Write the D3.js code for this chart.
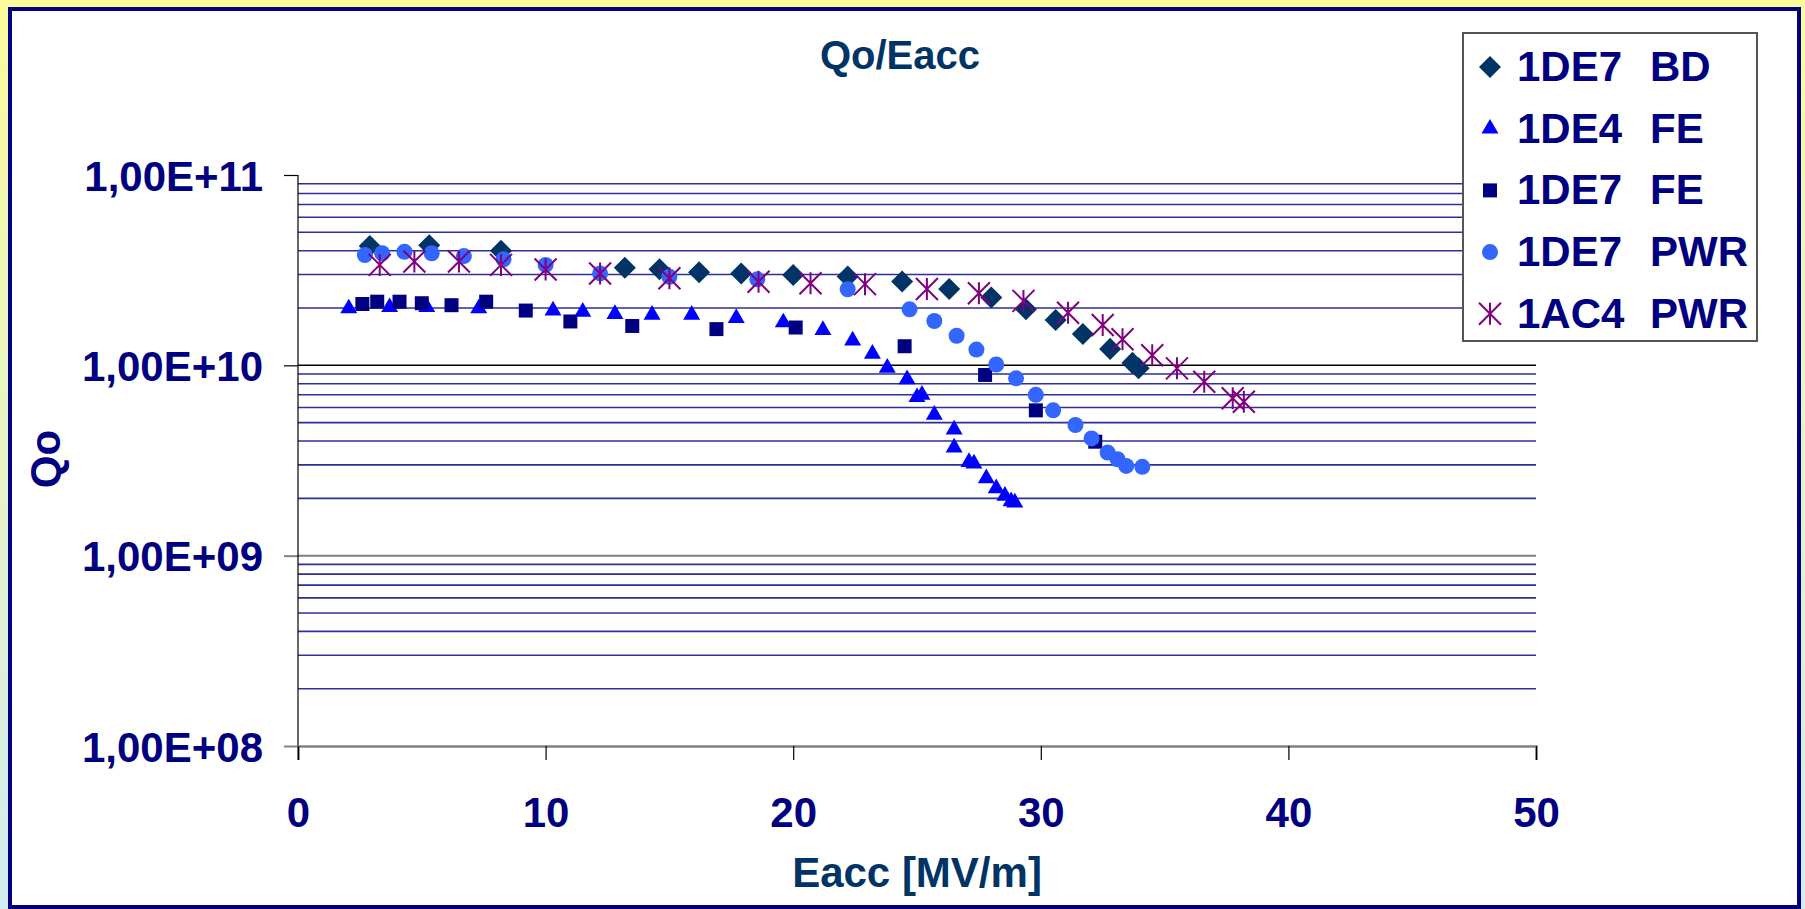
<!DOCTYPE html>
<html>
<head>
<meta charset="utf-8">
<script src="https://cdn.jsdelivr.net/npm/d3@7"></script>
<style>
  body { margin: 0; padding: 0; overflow: hidden; }
  text { font-family: "Liberation Sans", Arial, sans-serif; font-weight: bold; }
</style>
</head>
<body>
<svg id="chart" width="1805" height="909"></svg>
<script>
// series names shown in the legend
var seriesNames = [["1DE7", "BD"], ["1DE4", "FE"], ["1DE7", "FE"], ["1DE7", "PWR"], ["1AC4", "PWR"]];

// 1DE7 BD
var bdX = [2.9, 5.3, 8.2, 13.2, 14.6, 16.2, 17.9, 20.0, 22.2, 24.4, 26.3, 28.0, 29.4, 30.6, 31.7, 32.8, 33.7, 33.95];
var bdQ = [4.24e10, 4.28e10, 4.0e10, 3.26e10, 3.2e10, 3.08e10, 3.04e10, 2.98e10, 2.93e10, 2.76e10, 2.52e10, 2.27e10, 1.97e10, 1.73e10, 1.46e10, 1.22e10, 1.03e10, 9.65e9];

// 1DE4 FE
var fe4X = [2.05, 3.7, 5.2, 7.3, 10.3, 11.5, 12.8, 14.3, 15.9, 17.7, 19.6, 21.2, 22.4, 23.2, 23.8, 24.6, 25.0, 25.2, 25.7, 26.5, 26.5, 27.1, 27.3, 27.8, 28.2, 28.55, 28.8, 28.95];
var fe4Q = [1.99e10, 2.02e10, 2.02e10, 1.99e10, 1.94e10, 1.91e10, 1.86e10, 1.84e10, 1.84e10, 1.77e10, 1.68e10, 1.53e10, 1.35e10, 1.15e10, 9.7e9, 8.45e9, 6.8e9, 7.0e9, 5.5e9, 4.6e9, 3.7e9, 3.1e9, 3.05e9, 2.55e9, 2.26e9, 2.06e9, 1.93e9, 1.9e9];

// 1DE7 FE
var fe7X = [2.6, 3.2, 4.1, 5.0, 6.2, 7.6, 9.2, 11.0, 13.5, 16.9, 20.1, 24.5, 27.75, 29.8, 32.2];
var fe7Q = [2.10e10, 2.16e10, 2.16e10, 2.12e10, 2.07e10, 2.16e10, 1.94e10, 1.70e10, 1.61e10, 1.55e10, 1.58e10, 1.26e10, 8.9e9, 5.8e9, 3.97e9];

// 1DE7 PWR
var pwr7X = [2.7, 3.4, 4.3, 5.4, 6.7, 8.3, 10.0, 12.2, 15.0, 18.55, 22.2, 24.7, 25.7, 26.6, 27.4, 28.2, 29.0, 29.8, 30.5, 31.4, 32.05, 32.7, 33.1, 33.45, 34.1];
var pwr7Q = [3.80e10, 3.88e10, 3.95e10, 3.88e10, 3.75e10, 3.61e10, 3.37e10, 3.04e10, 2.92e10, 2.83e10, 2.51e10, 1.97e10, 1.71e10, 1.43e10, 1.21e10, 1.01e10, 8.55e9, 7.0e9, 5.8e9, 4.86e9, 4.13e9, 3.48e9, 3.21e9, 2.96e9, 2.93e9];

// 1AC4 PWR
var pwr4X = [3.3, 4.7, 6.5, 8.2, 10.0, 12.2, 15.0, 18.6, 20.7, 22.9, 25.4, 27.5, 29.3, 31.1, 32.5, 33.3, 34.5, 35.5, 36.6, 37.75, 38.2];
var pwr4Q = [3.37e10, 3.51e10, 3.51e10, 3.37e10, 3.19e10, 3.04e10, 2.87e10, 2.75e10, 2.70e10, 2.67e10, 2.52e10, 2.39e10, 2.18e10, 1.89e10, 1.63e10, 1.37e10, 1.13e10, 9.64e9, 8.2e9, 6.71e9, 6.44e9];

var xTicks = [0, 10, 20, 30, 40, 50];
var yTicks = [1e8, 1e9, 1e10, 1e11];

var svg = d3.select("#chart");

// background + white panel with navy border
var defs = svg.append("defs");
var grad = defs.append("linearGradient").attr("id", "bg").attr("x1", 0).attr("y1", 0).attr("x2", 0).attr("y2", 1);
grad.append("stop").attr("offset", "0%").attr("stop-color", "#fbfb9c");
grad.append("stop").attr("offset", "100%").attr("stop-color", "#d2ecf2");
svg.append("rect").attr("width", 1805).attr("height", 909).attr("fill", "url(#bg)");
svg.append("rect")
    .attr("x", 10).attr("y", 9).attr("width", 1789).attr("height", 898)
    .attr("fill", "#fff").attr("stroke", "#000080").attr("stroke-width", 4);

var xScale = d3.scaleLinear().domain([0, 50]).range([298, 1536]);
var yScale = d3.scaleLog().domain([1e8, 1e11]).range([746, 175]);

// minor gridlines 2..9 in each decade
var minor = [];
[1e8, 1e9, 1e10].forEach(function(d) {
    for (var k = 2; k <= 9; k++) minor.push(d * k);
});

var grid = svg.append("g");
grid.selectAll("line.minor")
    .data(minor)
    .enter()
    .append("line")
    .attr("class", "minor")
    .attr("x1", xScale(0)).attr("x2", xScale(50))
    .attr("y1", function(d) { return yScale(d); })
    .attr("y2", function(d) { return yScale(d); })
    .attr("stroke", "#2e2e9c")
    .attr("stroke-width", 1.6);

grid.append("line")
    .attr("x1", xScale(0)).attr("x2", xScale(50))
    .attr("y1", yScale(1e10)).attr("y2", yScale(1e10))
    .attr("stroke", "#000").attr("stroke-width", 1.5);
grid.append("line")
    .attr("x1", xScale(0)).attr("x2", xScale(50))
    .attr("y1", yScale(1e9)).attr("y2", yScale(1e9))
    .attr("stroke", "#808080").attr("stroke-width", 2);

// axes
var yAxis = svg.append("g")
    .attr("transform", "translate(" + xScale(0) + ",0)")
    .call(d3.axisLeft(yScale)
        .tickValues(yTicks)
        .tickSize(14)
        .tickPadding(21)
        .tickFormat(function(d) {
            return "1,00E+" + d3.format("02d")(Math.round(Math.log10(d)));
        }));
yAxis.select(".domain").remove();
yAxis.selectAll(".tick line")
    .attr("stroke", function(d) { return d < 5e9 ? "#808080" : "#000"; })
    .attr("stroke-width", function(d) { return d < 5e9 ? 2 : 1.2; });
yAxis.selectAll(".tick text")
    .attr("fill", "#000080")
    .attr("font-size", 42)
    .attr("dy", "0.36em");

svg.append("line")
    .attr("x1", xScale(0)).attr("x2", xScale(0))
    .attr("y1", yScale(1e11)).attr("y2", yScale(1e8) + 14)
    .attr("stroke", "#000").attr("stroke-width", 1.2);

var xAxis = svg.append("g")
    .attr("transform", "translate(0," + yScale(1e8) + ")")
    .call(d3.axisBottom(xScale).tickValues(xTicks).tickSize(14).tickPadding(37));
xAxis.select(".domain").attr("stroke", "#808080").attr("stroke-width", 2.5);
xAxis.selectAll(".tick line").attr("stroke", "#000").attr("stroke-width", 1.2);
xAxis.selectAll(".tick text")
    .attr("fill", "#000080")
    .attr("font-size", 42);

// titles
svg.append("text")
    .attr("x", 900).attr("y", 69)
    .attr("text-anchor", "middle")
    .attr("font-size", 40)
    .attr("fill", "#003366")
    .text("Qo/Eacc");
svg.append("text")
    .attr("x", 917).attr("y", 887)
    .attr("text-anchor", "middle")
    .attr("font-size", 42)
    .attr("fill", "#003366")
    .text("Eacc [MV/m]");
svg.append("text")
    .attr("transform", "translate(60,459) rotate(-90)")
    .attr("text-anchor", "middle")
    .attr("font-size", 42)
    .attr("fill", "#000080")
    .text("Qo");

// marker shapes
var starType = {
    draw: function(ctx, size) {
        var r = Math.sqrt(size) / 2;
        ctx.moveTo(-r, -r); ctx.lineTo(r, r);
        ctx.moveTo(-r, r); ctx.lineTo(r, -r);
        ctx.moveTo(0, -r); ctx.lineTo(0, r);
    }
};

var series = [
    { xs: bdX, qs: bdQ, sym: d3.symbol().type(d3.symbolSquare).size(243), rot: 45, fill: "#003366" },
    { xs: fe4X, qs: fe4Q, sym: d3.symbol().type(d3.symbolTriangle).size(125), rot: 0, fill: "#0000ff" },
    { xs: fe7X, qs: fe7Q, sym: d3.symbol().type(d3.symbolSquare).size(196), rot: 0, fill: "#000080" },
    { xs: pwr7X, qs: pwr7Q, sym: d3.symbol().type(d3.symbolCircle).size(201), rot: 0, fill: "#3366ff" },
    { xs: pwr4X, qs: pwr4Q, sym: d3.symbol().type(starType).size(484), rot: 0, stroke: "#800080" }
];

var drawMark = function(sel, s) {
    sel.attr("d", s.sym())
        .attr("fill", s.stroke ? "none" : s.fill)
        .attr("stroke", s.stroke ? s.stroke : "none")
        .attr("stroke-width", s.stroke ? 2 : 0);
};

series.forEach(function(s) {
    var pts = s.xs.map(function(x, i) { return [x, s.qs[i]]; });
    svg.append("g")
        .selectAll("path")
        .data(pts)
        .enter()
        .append("path")
        .attr("transform", function(d) {
            return "translate(" + xScale(d[0]) + "," + yScale(d[1]) + ") rotate(" + s.rot + ")";
        })
        .call(drawMark, s);
});

// legend
var legend = svg.append("g");
legend.append("rect")
    .attr("x", 1463).attr("y", 33).attr("width", 294).attr("height", 308)
    .attr("fill", "#fff").attr("stroke", "#555").attr("stroke-width", 2);

seriesNames.forEach(function(n, i) {
    var base = 81 + i * 61.7;
    legend.append("path")
        .attr("transform", "translate(1490," + (base - 14) + ") rotate(" + series[i].rot + ")")
        .call(drawMark, series[i]);
    var t = legend.append("text")
        .attr("y", base)
        .attr("font-size", 42)
        .attr("fill", "#000080");
    t.append("tspan").attr("x", 1517).text(n[0]);
    t.append("tspan").attr("x", 1650).text(n[1]);
});
</script>
</body>
</html>
